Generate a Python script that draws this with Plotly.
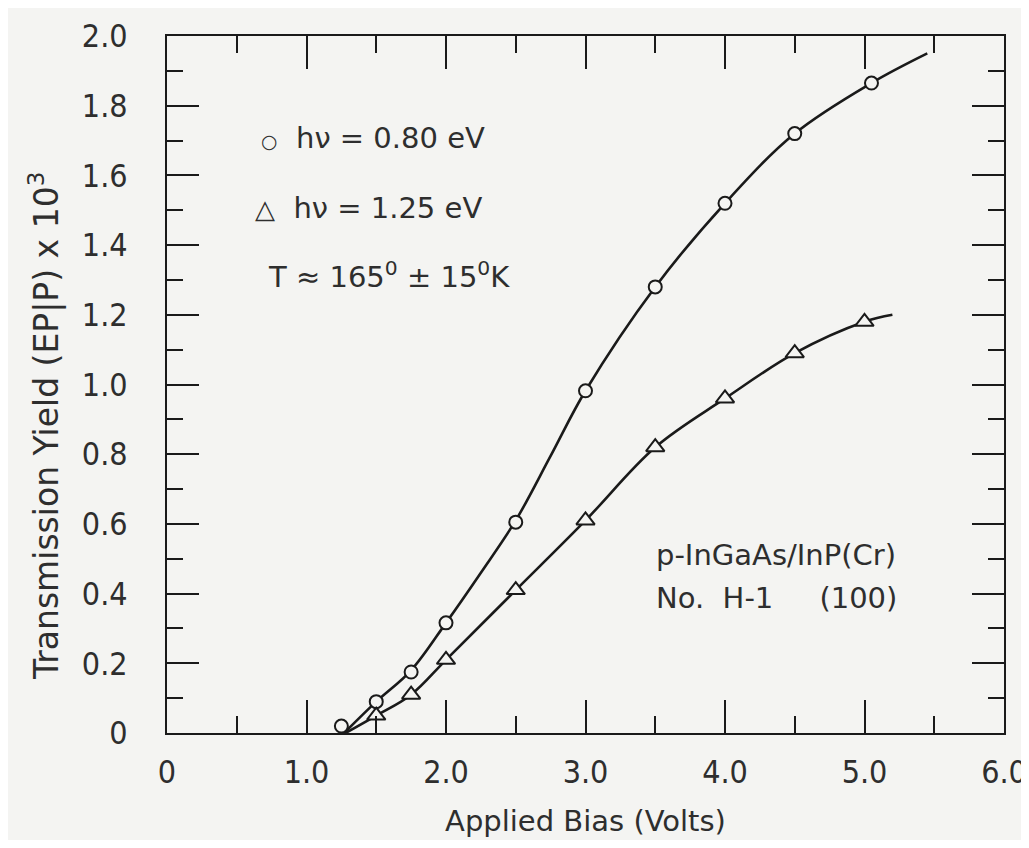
import plotly.graph_objects as go

# Data
bias_080 = [1.25, 1.5, 1.75, 2.0, 2.5, 3.0, 3.5, 4.0, 4.5, 5.05]
yield_080 = [0.02, 0.09, 0.175, 0.316, 0.605, 0.982, 1.28, 1.52, 1.72, 1.865]
bias_125 = [1.5, 1.75, 2.0, 2.5, 3.0, 3.5, 4.0, 4.5, 5.0]
yield_125 = [0.05, 0.11, 0.21, 0.41, 0.61, 0.82, 0.96, 1.09, 1.18]

# Smooth hand-drawn curves
curve_x_080 = [1.27, 1.5, 1.75, 2.0, 2.25, 2.5, 2.75, 3.0, 3.5, 4.0, 4.5, 5.05, 5.45]
curve_y_080 = [0.0, 0.09, 0.18, 0.316, 0.46, 0.61, 0.795, 0.982, 1.28, 1.52, 1.72, 1.865, 1.95]
curve_x_125 = [1.28, 1.5, 1.75, 2.0, 2.5, 3.0, 3.5, 4.0, 4.5, 5.0, 5.2]
curve_y_125 = [0.0, 0.05, 0.11, 0.21, 0.41, 0.61, 0.82, 0.96, 1.09, 1.18, 1.2]

x_ticks = [0, 1, 2, 3, 4, 5, 6]
x_tick_labels = ["0", "1.0", "2.0", "3.0", "4.0", "5.0", "6.0"]
y_ticks = [0, 0.2, 0.4, 0.6, 0.8, 1.0, 1.2, 1.4, 1.6, 1.8, 2.0]
y_tick_labels = ["0", "0.2", "0.4", "0.6", "0.8", "1.0", "1.2", "1.4", "1.6", "1.8", "2.0"]

BG = "#f4f4f2"
INK = "#1a1a1a"
TXT = "#2e2e2e"
TICKFONT = dict(family="Liberation Sans Narrow, DejaVu Sans Condensed, Liberation Sans", size=32, color=TXT)
TEXTFONT = dict(family="DejaVu Sans, Liberation Sans", size=29, color=TXT)
YTITLEFONT = dict(family="DejaVu Sans, Liberation Sans", size=33, color=TXT)

fig = go.Figure()
fig.add_trace(go.Scatter(x=curve_x_080, y=curve_y_080, mode="lines",
                         line=dict(color=INK, width=2.6, shape="spline", smoothing=1.0),
                         showlegend=False, hoverinfo="skip"))
fig.add_trace(go.Scatter(x=curve_x_125, y=curve_y_125, mode="lines",
                         line=dict(color=INK, width=2.6, shape="spline", smoothing=1.0),
                         showlegend=False, hoverinfo="skip"))
fig.add_trace(go.Scatter(x=bias_080, y=yield_080, mode="markers", name="hν = 0.80 eV",
                         marker=dict(symbol="circle", size=13, color=BG,
                                     line=dict(color=INK, width=2)),
                         showlegend=False))
fig.add_trace(go.Scatter(x=bias_125, y=yield_125, mode="markers", name="hν = 1.25 eV",
                         marker=dict(symbol="triangle-up", size=16, color=BG,
                                     line=dict(color=INK, width=2)),
                         showlegend=False))

axis_common = dict(showgrid=False, zeroline=False, showline=True, linecolor=INK, linewidth=2,
                   mirror="allticks", ticks="inside", tickcolor=INK, tickwidth=1.5,
                   tickfont=TICKFONT, automargin=False, ticklabeloverflow="allow")

fig.update_xaxes(range=[0, 6], tickvals=x_ticks, ticktext=x_tick_labels, ticklen=33,
                 minor=dict(dtick=0.5, ticklen=17, ticks="inside", tickcolor=INK, tickwidth=1.5),
                 ticklabelstandoff=10,
                 title=dict(text="Applied Bias (Volts)", font=TEXTFONT, standoff=20),
                 **axis_common)
fig.update_yaxes(range=[0, 2.0], tickvals=y_ticks, ticktext=y_tick_labels, ticklen=32,
                 minor=dict(dtick=0.1, ticklen=16, ticks="inside", tickcolor=INK, tickwidth=1.5),
                 ticklabelstandoff=31,
                 **axis_common)

fig.add_annotation(text="Transmission Yield (EP|P) x 10<sup>3</sup>", textangle=-90,
                   xref="paper", yref="paper", x=-0.146, y=0.44,
                   xanchor="center", yanchor="middle", showarrow=False, font=YTITLEFONT)

ann = [
    ('<span style="font-size:19px">○</span>  hν = 0.80 eV', 0.66, 1.707),
    ('<span style="font-size:26px">△</span>  hν = 1.25 eV', 0.62, 1.506),
    ("T ≈ 165<sup>0</sup> ± 15<sup>0</sup>K", 0.71, 1.314),
    ("p-InGaAs/InP(Cr)", 3.49, 0.511),
    ("No.  H-1     (100)", 3.49, 0.387),
]
for t, x, y in ann:
    fig.add_annotation(text=t, x=x, y=y, xref="x", yref="y", xanchor="left", yanchor="middle",
                       showarrow=False, font=TEXTFONT)

# The page adds an 8px body margin, so the figure is shifted and sized to avoid page overflow
fig.update_layout(width=1021, height=832, margin=dict(l=159, r=25, t=28, b=107),
                  paper_bgcolor=BG, plot_bgcolor=BG, showlegend=False)

fig.write_html("out.html")
